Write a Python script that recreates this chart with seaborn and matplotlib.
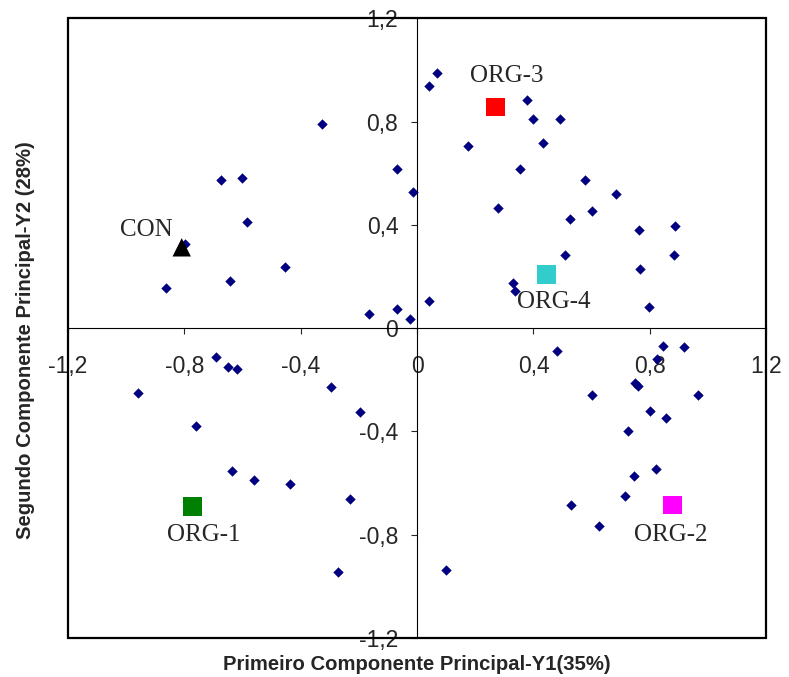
import numpy as np
import pandas as pd
import matplotlib
matplotlib.use("Agg")
import matplotlib.pyplot as plt
from matplotlib.patches import Rectangle
from matplotlib.ticker import FixedLocator, FuncFormatter
import seaborn as sns

# ── observation scores on the first two principal components ──────────────────
pc1 = [-0.326, -0.068, -0.015, -0.673, -0.603, -0.586, -0.798, -0.455, -0.643,
       -0.862, -0.165, -0.068, -0.024, 0.069, 0.042, 0.377, 0.399, 0.491,
       0.175, 0.433, 0.352, 0.576, 0.684, 0.278, 0.601, 0.525, 0.761, 0.886,
       0.507, 0.884, 0.765, 0.331, 0.335, 0.040, 0.796, -0.690, -0.649,
       -0.618, -0.959, -0.295, -0.197, -0.759, -0.635, -0.560, -0.436,
       -0.232, -0.272, 0.481, 0.846, 0.918, 0.823, 0.749, 0.758, 0.602,
       0.965, 0.800, 0.854, 0.726, 0.821, 0.744, 0.716, 0.528, 0.624, 0.099]
pc2 = [0.791, 0.616, 0.528, 0.574, 0.582, 0.410, 0.325, 0.237, 0.181,
       0.155, 0.053, 0.076, 0.035, 0.987, 0.939, 0.883, 0.809, 0.809,
       0.707, 0.716, 0.618, 0.574, 0.519, 0.466, 0.452, 0.423, 0.381, 0.395,
       0.283, 0.284, 0.230, 0.173, 0.144, 0.105, 0.080, -0.112, -0.152,
       -0.158, -0.250, -0.228, -0.325, -0.378, -0.555, -0.587, -0.605,
       -0.661, -0.946, -0.087, -0.071, -0.074, -0.120, -0.213, -0.223, -0.259,
       -0.257, -0.319, -0.349, -0.398, -0.547, -0.571, -0.649, -0.685, -0.765,
       -0.936]

# ── group centroids ────────────────────────────────────────────────────────────
groups   = ["CON", "ORG-1", "ORG-2", "ORG-3", "ORG-4"]
group_x  = [-0.809, -0.772, 0.878, 0.270, 0.445]
group_y  = [0.313, -0.691, -0.684, 0.856, 0.208]
colors   = ["black", "#008000", "#FF00FF", "#FF0000", "#33CCCC"]
markers  = ["^", "s", "s", "s", "s"]
# label offsets (pixels) from each centroid
label_dx = [-35, 11, -2, 11, 7]
label_dy = [11, -34, -36, 25, -34]

ticks = [-1.2, -0.8, -0.4, 0, 0.4, 0.8, 1.2]

sns.set_style("white")
plt.rcParams["font.family"] = ["Liberation Sans", "DejaVu Sans"]

obs = pd.DataFrame({"Y1": pc1, "Y2": pc2})
grp = pd.DataFrame({"Y1": group_x, "Y2": group_y, "group": groups})

fig = plt.figure(figsize=(7.89, 6.77), dpi=100)
ax = fig.add_axes([0.0861, 0.0576, 0.8851, 0.9154])

sns.scatterplot(data=obs, x="Y1", y="Y2", ax=ax, marker="D", s=28,
                color="#000080", linewidth=0, zorder=3, legend=False)
sns.scatterplot(data=grp, x="Y1", y="Y2", ax=ax, hue="group", style="group",
                palette=dict(zip(groups, colors)),
                markers=dict(zip(groups, markers)),
                s=175, linewidth=0, zorder=4, legend=False)

for name, gx, gy, dx, dy in zip(groups, group_x, group_y, label_dx, label_dy):
    ax.annotate(name, (gx, gy), xytext=(dx, dy), textcoords="offset pixels",
                ha="center", va="baseline", fontsize=18,
                family="Liberation Serif", zorder=5)

ax.set_xlim(-1.2, 1.2)
ax.set_ylim(-1.2, 1.2)

# axes crossing at the origin
ax.spines["left"].set_position("zero")
ax.spines["bottom"].set_position("zero")
ax.spines["top"].set_visible(False)
ax.spines["right"].set_visible(False)
for side in ("left", "bottom"):
    ax.spines[side].set_linewidth(0.8)
    ax.spines[side].set_color("black")

fmt = FuncFormatter(lambda v, _: "0" if abs(v) < 1e-9 else f"{v:.1f}".replace(".", ","))
ax.xaxis.set_major_locator(FixedLocator(ticks))
ax.yaxis.set_major_locator(FixedLocator(ticks))
ax.xaxis.set_major_formatter(fmt)
ax.yaxis.set_major_formatter(fmt)
ax.tick_params(axis="x", direction="out", length=4.5, width=0.8, pad=15,
               labelsize=16.5, bottom=True)
ax.tick_params(axis="y", direction="out", length=4.5, width=0.8, pad=9,
               labelsize=16.5, left=True)

# outer frame drawn over everything
ax.add_patch(Rectangle((0, 0), 1, 1, transform=ax.transAxes, fill=False,
                       edgecolor="black", linewidth=1.6, clip_on=False,
                       zorder=10))

ax.set_xlabel("Primeiro Componente Principal-Y1(35%)", fontsize=14.6,
              fontweight="bold")
ax.set_ylabel("Segundo Componente Principal-Y2 (28%)", fontsize=14.6,
              fontweight="bold")
ax.xaxis.set_label_coords(0.5, -0.027)
ax.yaxis.set_label_coords(-0.047, 0.48)

fig.savefig("out.png", dpi=100)
